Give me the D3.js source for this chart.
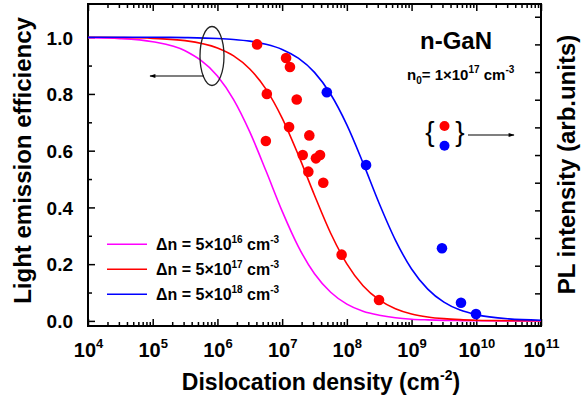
<!DOCTYPE html>
<html>
<head>
<meta charset="utf-8">
<script src="https://cdn.jsdelivr.net/npm/d3@7"></script>
<style>
  html, body { margin: 0; padding: 0; background: #fff; }
  svg { display: block; font-family: "Liberation Sans", Arial, sans-serif; font-weight: bold; }
</style>
</head>
<body>
<svg id="chart" width="583" height="401"></svg>
<script>
// Model curves: light emission efficiency vs dislocation density (log10 of density)
const curveLogDensity = [4, 4.5, 5, 5.5, 6, 6.25, 6.5, 6.75, 7, 7.25, 7.5, 7.75, 8, 8.25, 8.5, 8.75, 9, 9.25, 9.5, 9.75, 10, 10.5, 11];
const effLow  = [0.998, 0.995, 0.984, 0.952, 0.863, 0.780, 0.666, 0.529, 0.387, 0.262, 0.166, 0.101, 0.059, 0.034, 0.020, 0.011, 0.006, 0.0036, 0.002, 0.0011, 0.0006, 0.0002, 0.0001];
const effMid  = [1.0, 0.999, 0.996, 0.988, 0.962, 0.934, 0.888, 0.817, 0.715, 0.585, 0.443, 0.309, 0.201, 0.124, 0.074, 0.043, 0.0245, 0.014, 0.0079, 0.0045, 0.0025, 0.0008, 0.0003];
const effHigh = [1.0, 1.0, 0.9996, 0.9986, 0.9955, 0.992, 0.986, 0.975, 0.957, 0.926, 0.876, 0.799, 0.691, 0.557, 0.414, 0.285, 0.183, 0.112, 0.066, 0.038, 0.022, 0.007, 0.0022];

// Measured PL intensity (right axis)
const redDensity = [4.1e6, 1.15e7, 1.32e7, 5.8e6, 1.68e7, 1.28e7, 5.6e6, 2.63e7, 2.08e7, 3.33e7, 3.85e7, 2.54e7, 4.32e7, 8.3e7, 3.14e8];
const redPL      = [1.0, 0.951, 0.918, 0.821, 0.801, 0.701, 0.651, 0.671, 0.600, 0.588, 0.600, 0.540, 0.500, 0.240, 0.076];
const blueDensity = [4.9e7, 1.98e8, 2.95e9, 5.8e9, 9.9e9];
const bluePL      = [0.827, 0.564, 0.263, 0.066, 0.025];

const xDecades = [4, 5, 6, 7, 8, 9, 10, 11];
const yTicks = [0, 0.2, 0.4, 0.6, 0.8, 1.0];
const legendExp = ["16", "17", "18"];
const curveColors = ["#ff00ff", "#ff0000", "#0000ff"];

const svg = d3.select("#chart");
const L = 88, R = 541, T = 4, B = 326;

const x = d3.scaleLog().domain([1e4, 1e11]).range([L, R]);
const y = d3.scaleLinear().domain([-0.018, 1.117]).range([B, T]);
const yR = d3.scaleLinear().domain([-0.018, 1.146]).range([B, T]);

// minor ticks 2..9 within each decade
const minor = [];
for (let e = 4; e < 11; e++) for (let m = 2; m <= 9; m++) minor.push(m * Math.pow(10, e));
const majors = xDecades.map(e => Math.pow(10, e));

const axisStyle = g => {
  g.select(".domain").remove();
  g.selectAll(".tick line").attr("stroke", "#000").attr("stroke-width", 1.5);
};

// bottom axis
svg.append("g").attr("transform", `translate(0,${B})`)
  .call(d3.axisBottom(x).tickValues(minor).tickSizeInner(-4).tickSizeOuter(0).tickFormat(""))
  .call(axisStyle);
const bottomMajor = svg.append("g").attr("transform", `translate(0,${B})`)
  .call(d3.axisBottom(x).tickValues(majors).tickSizeInner(-7).tickSizeOuter(0).tickPadding(0))
  .call(axisStyle);
bottomMajor.selectAll(".tick text").each(function(d) {
  const t = d3.select(this);
  const e = Math.round(Math.log10(d));
  t.text(null).attr("y", 31).attr("dy", null)
    .attr("font-size", 20).attr("font-weight", "bold").attr("fill", "#000")
    .attr("font-family", "Liberation Sans, Arial, sans-serif").attr("text-anchor", "middle");
  t.append("tspan").text("10");
  t.append("tspan").attr("font-size", 13).attr("dy", -9).text(e);
});

// top axis
svg.append("g").attr("transform", `translate(0,${T})`)
  .call(d3.axisTop(x).tickValues(minor).tickSizeInner(-4).tickSizeOuter(0).tickFormat(""))
  .call(axisStyle);
svg.append("g").attr("transform", `translate(0,${T})`)
  .call(d3.axisTop(x).tickValues(majors).tickSizeInner(-7).tickSizeOuter(0).tickFormat(""))
  .call(axisStyle);

// left axis
svg.append("g").attr("transform", `translate(${L},0)`)
  .call(d3.axisLeft(y).tickValues([0.1, 0.3, 0.5, 0.7, 0.9]).tickSizeInner(-4).tickSizeOuter(0).tickFormat(""))
  .call(axisStyle);
const leftMajor = svg.append("g").attr("transform", `translate(${L},0)`)
  .call(d3.axisLeft(y).tickValues(yTicks).tickSizeInner(-7).tickSizeOuter(0).tickPadding(15).tickFormat(d3.format(".1f")))
  .call(axisStyle);
leftMajor.selectAll(".tick text")
  .attr("font-size", 19).attr("font-weight", "bold").attr("fill", "#000")
  .attr("font-family", "Liberation Sans, Arial, sans-serif").attr("dy", "0.36em");

// right axis (PL intensity, unlabeled)
svg.append("g").attr("transform", `translate(${R},0)`)
  .call(d3.axisRight(yR).tickValues(d3.range(1, 12).map(i => i / 10)).tickSizeInner(-6).tickSizeOuter(0).tickFormat(""))
  .call(axisStyle);

// frame
svg.append("rect").attr("x", L).attr("y", T).attr("width", R - L).attr("height", B - T)
  .attr("fill", "none").attr("stroke", "#000").attr("stroke-width", 2);

// model curves
const line = d3.line()
  .x(d => x(Math.pow(10, d[0])))
  .y(d => y(d[1]))
  .curve(d3.curveMonotoneX);
[effLow, effMid, effHigh].forEach((vals, i) => {
  svg.append("path")
    .datum(curveLogDensity.map((l, j) => [l, vals[j]]))
    .attr("d", line).attr("fill", "none")
    .attr("stroke", curveColors[i]).attr("stroke-width", 1.6);
});

// data points
svg.append("g").selectAll("circle").data(redDensity.map((d, i) => [d, redPL[i]]))
  .join("circle").attr("cx", d => x(d[0])).attr("cy", d => yR(d[1])).attr("r", 5.3).attr("fill", "#ff0000");
svg.append("g").selectAll("circle").data(blueDensity.map((d, i) => [d, bluePL[i]]))
  .join("circle").attr("cx", d => x(d[0])).attr("cy", d => yR(d[1])).attr("r", 5.3).attr("fill", "#0000ff");

// arrow marker
svg.append("defs").append("marker")
  .attr("id", "arrow").attr("viewBox", "0 0 10 10").attr("refX", 9).attr("refY", 5)
  .attr("markerWidth", 7).attr("markerHeight", 5).attr("orient", "auto")
  .append("path").attr("d", "M0,1.5 L10,5 L0,8.5 Z").attr("fill", "#000");

// ellipse grouping the curves, pointing to left axis
svg.append("ellipse").attr("cx", 212).attr("cy", 56).attr("rx", 12).attr("ry", 29.5)
  .attr("fill", "none").attr("stroke", "#222").attr("stroke-width", 1.3);
svg.append("line").attr("x1", 204).attr("y1", 76).attr("x2", 150).attr("y2", 76)
  .attr("stroke", "#000").attr("stroke-width", 1.2).attr("marker-end", "url(#arrow)");

// braces grouping the data points, pointing to right axis
svg.append("text").attr("x", 430).attr("y", 141).attr("text-anchor", "middle")
  .attr("font-size", 28).attr("font-weight", "normal").text("{");
svg.append("text").attr("x", 460).attr("y", 141).attr("text-anchor", "middle")
  .attr("font-size", 28).attr("font-weight", "normal").text("}");
svg.append("circle").attr("cx", 444.5).attr("cy", 126).attr("r", 5).attr("fill", "#ff0000");
svg.append("circle").attr("cx", 444.5).attr("cy", 145.7).attr("r", 5).attr("fill", "#0000ff");
svg.append("line").attr("x1", 468).attr("y1", 135).attr("x2", 514).attr("y2", 135)
  .attr("stroke", "#000").attr("stroke-width", 1.2).attr("marker-end", "url(#arrow)");

// sample labels
svg.append("text").attr("x", 420).attr("y", 48.5).attr("font-size", 24).text("n-GaN");
const n0 = svg.append("text").attr("x", 407).attr("y", 80).attr("font-size", 15);
n0.append("tspan").text("n");
n0.append("tspan").attr("font-size", 10).attr("dy", 4).text("0");
n0.append("tspan").attr("dy", -4).text("= 1×10");
n0.append("tspan").attr("font-size", 10).attr("dy", -7).text("17");
n0.append("tspan").attr("dy", 7).text(" cm");
n0.append("tspan").attr("font-size", 10).attr("dy", -7).text("-3");

// legend
const legendY = [244.3, 269.3, 294.3];
legendExp.forEach((e, i) => {
  svg.append("line").attr("x1", 107).attr("x2", 147).attr("y1", legendY[i]).attr("y2", legendY[i])
    .attr("stroke", curveColors[i]).attr("stroke-width", 1.6);
  const t = svg.append("text").attr("x", 156).attr("y", legendY[i] + 6).attr("font-size", 16);
  t.append("tspan").text("Δn = 5×10");
  t.append("tspan").attr("font-size", 10).attr("dy", -7).text(e);
  t.append("tspan").attr("dy", 7).text(" cm");
  t.append("tspan").attr("font-size", 10).attr("dy", -7).text("-3");
});

// axis titles
const xt = svg.append("text").attr("x", 321).attr("y", 389.5).attr("text-anchor", "middle").attr("font-size", 23);
xt.append("tspan").text("Dislocation density (cm");
xt.append("tspan").attr("font-size", 14).attr("dy", -10).text("-2");
xt.append("tspan").attr("dy", 10).text(")");

svg.append("text").attr("transform", "translate(30.5,160.5) rotate(-90)")
  .attr("text-anchor", "middle").attr("font-size", 24).text("Light emission efficiency");
svg.append("text").attr("transform", "translate(575,164.5) rotate(-90)")
  .attr("text-anchor", "middle").attr("font-size", 24).text("PL intensity (arb.units)");
</script>
</body>
</html>
